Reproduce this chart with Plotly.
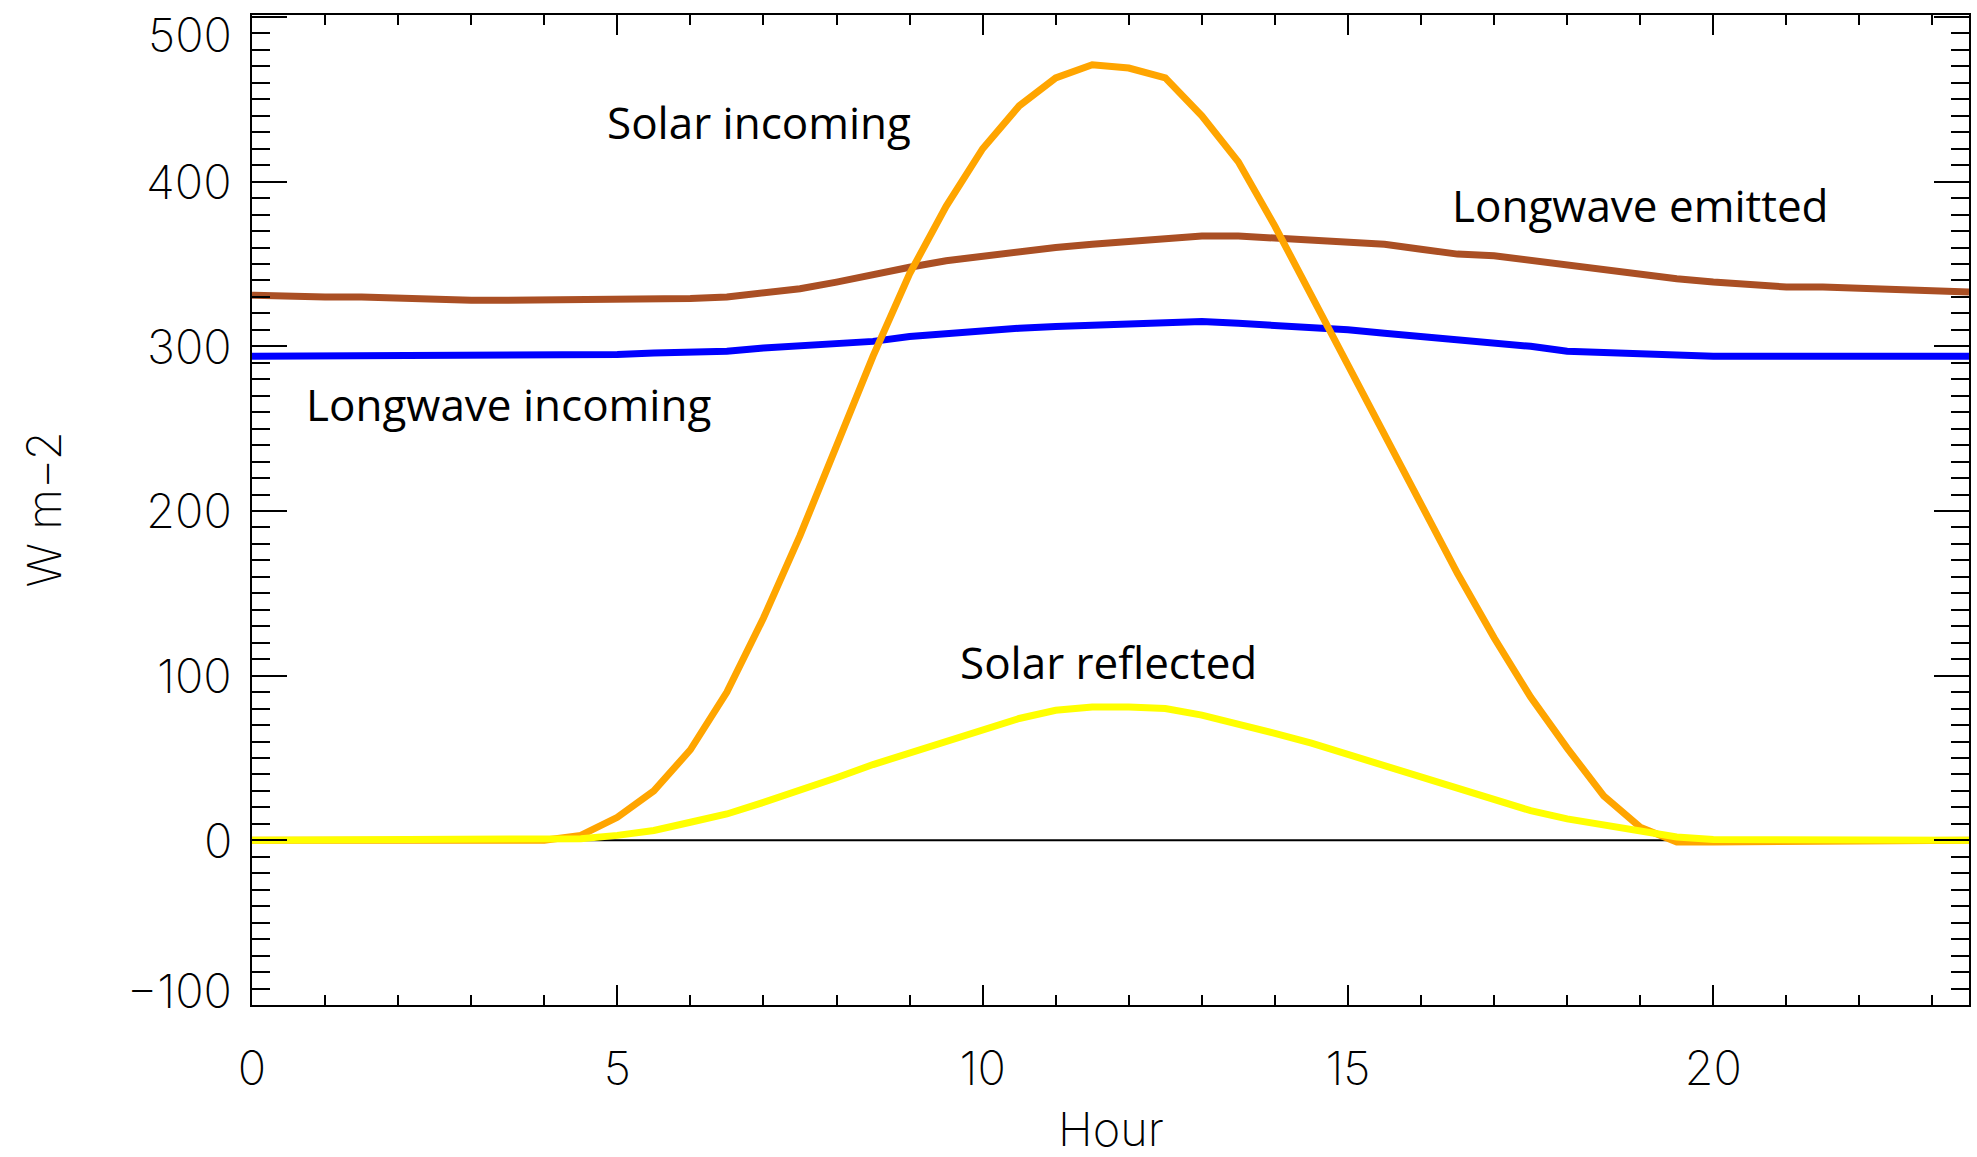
import plotly.graph_objects as go

# Half-hourly time axis (hours of the day)
hours = [i * 0.5 for i in range(48)]

# Longwave emitted (W m-2)
lw_emitted = [331, 330, 330, 330, 329, 329, 328, 328, 328, 328, 328, 328,
              329, 330, 332, 335, 339, 344, 348, 352, 355, 357, 360, 362,
              364, 366, 367, 367, 366, 365, 363, 362, 359, 356, 355, 352,
              349, 346, 343, 341, 339, 337, 336, 336, 335, 334, 334, 333]

# Longwave incoming (W m-2)
lw_incoming = [294, 294, 294, 294, 294, 294, 295, 295, 295, 295, 295, 296,
               296, 297, 299, 300, 301, 303, 306, 308, 310, 311, 312, 313,
               314, 315, 315, 314, 313, 312, 310, 308, 306, 304, 303, 300,
               297, 296, 295, 294, 294, 294, 294, 294, 294, 294, 294, 294]

# Solar incoming (W m-2)
sw_incoming = [0, 0, 0, 0, 0, 0, 0, 0, 0, 3, 14, 30,
               55, 90, 135, 185, 240, 294, 344, 385, 420, 446, 463, 471,
               469, 463, 440, 412, 373, 331, 288, 248, 205, 162, 123, 87,
               56, 27, 8, -1, -1, -1, -1, -1, 0, 0, 0, 0]

# Solar reflected (W m-2)
sw_reflected = [0, 0, 0, 0, 0, 0, 0, 0, 0, 1, 3, 6,
                11, 16, 23, 30, 38, 46, 53, 61, 68, 74, 79, 81,
                81, 80, 76, 71, 65, 59, 52, 45, 38, 31, 25, 18,
                13, 9, 5, 2, 0.5, 0.5, 0.5, 0.5, 0, 0, 0, 0]

zero_ref = [0] * len(hours)

x_ticks = [0, 5, 10, 15, 20]
y_ticks = [-100, 0, 100, 200, 300, 400, 500]

# Curve labels: (text, hour, value)
curve_labels = [
    ("Solar incoming", 6.94, 436),
    ("Longwave emitted", 19.0, 386),
    ("Longwave incoming", 3.51, 265),
    ("Solar reflected", 11.72, 108),
]

LW = 7
fig = go.Figure()
fig.add_trace(go.Scatter(x=hours, y=zero_ref, mode="lines",
                         line=dict(color="black", width=2)))
fig.add_trace(go.Scatter(x=hours, y=lw_emitted, mode="lines",
                         line=dict(color="#AA4F24", width=LW)))
fig.add_trace(go.Scatter(x=hours, y=lw_incoming, mode="lines",
                         line=dict(color="#0000FF", width=LW)))
fig.add_trace(go.Scatter(x=hours, y=sw_incoming, mode="lines",
                         line=dict(color="#FFA500", width=LW)))
fig.add_trace(go.Scatter(x=hours, y=sw_reflected, mode="lines",
                         line=dict(color="#FFFF00", width=LW)))

tick_font = dict(family="Inter", size=47, color="black", weight=200)
label_font = dict(family="Open Sans", size=44, color="black")

for text, hx, vy in curve_labels:
    fig.add_annotation(x=hx, y=vy, text=text, showarrow=False,
                       xanchor="center", yanchor="middle", font=label_font)

# Y tick labels, with the end labels nudged inside the frame
for v in y_ticks:
    shift = 0
    if v == y_ticks[-1]:
        shift = -18
    elif v == y_ticks[0]:
        shift = 15
    fig.add_annotation(xref="paper", x=0, y=v, xshift=-18, yshift=shift,
                       text=str(v).replace("-", "\u2212"), showarrow=False,
                       xanchor="right", yanchor="middle", font=tick_font)

fig.add_annotation(xref="paper", yref="paper", x=-0.122, y=0.5,
                   text="W m\u22122", textangle=-90, showarrow=False,
                   xanchor="center", yanchor="middle", font=tick_font)
fig.add_annotation(xref="paper", yref="paper", x=0.5, y=-0.125,
                   text="Hour", showarrow=False,
                   xanchor="center", yanchor="middle", font=tick_font)

fig.update_xaxes(
    range=[0, 23.5], tickvals=x_ticks, ticktext=[str(v) for v in x_ticks],
    showline=True, linecolor="black", linewidth=2, mirror="allticks",
    ticks="inside", ticklen=20, tickwidth=2, tickcolor="black",
    minor=dict(dtick=1, ticks="inside", ticklen=10, tickwidth=2, tickcolor="black"),
    showgrid=False, zeroline=False, tickfont=tick_font, ticklabelstandoff=22,
)
fig.update_yaxes(
    range=[-100, 501.2], tickvals=y_ticks, showticklabels=False,
    showline=True, linecolor="black", linewidth=2, mirror="allticks",
    ticks="inside", ticklen=35, tickwidth=2, tickcolor="black",
    minor=dict(dtick=10, ticks="inside", ticklen=18, tickwidth=2, tickcolor="black"),
    showgrid=False, zeroline=False,
)

fig.update_layout(
    width=1977, height=1157,
    margin=dict(l=252, r=6, t=15, b=152),
    plot_bgcolor="white", paper_bgcolor="white",
    showlegend=False,
)

fig.write_html("out.html")
